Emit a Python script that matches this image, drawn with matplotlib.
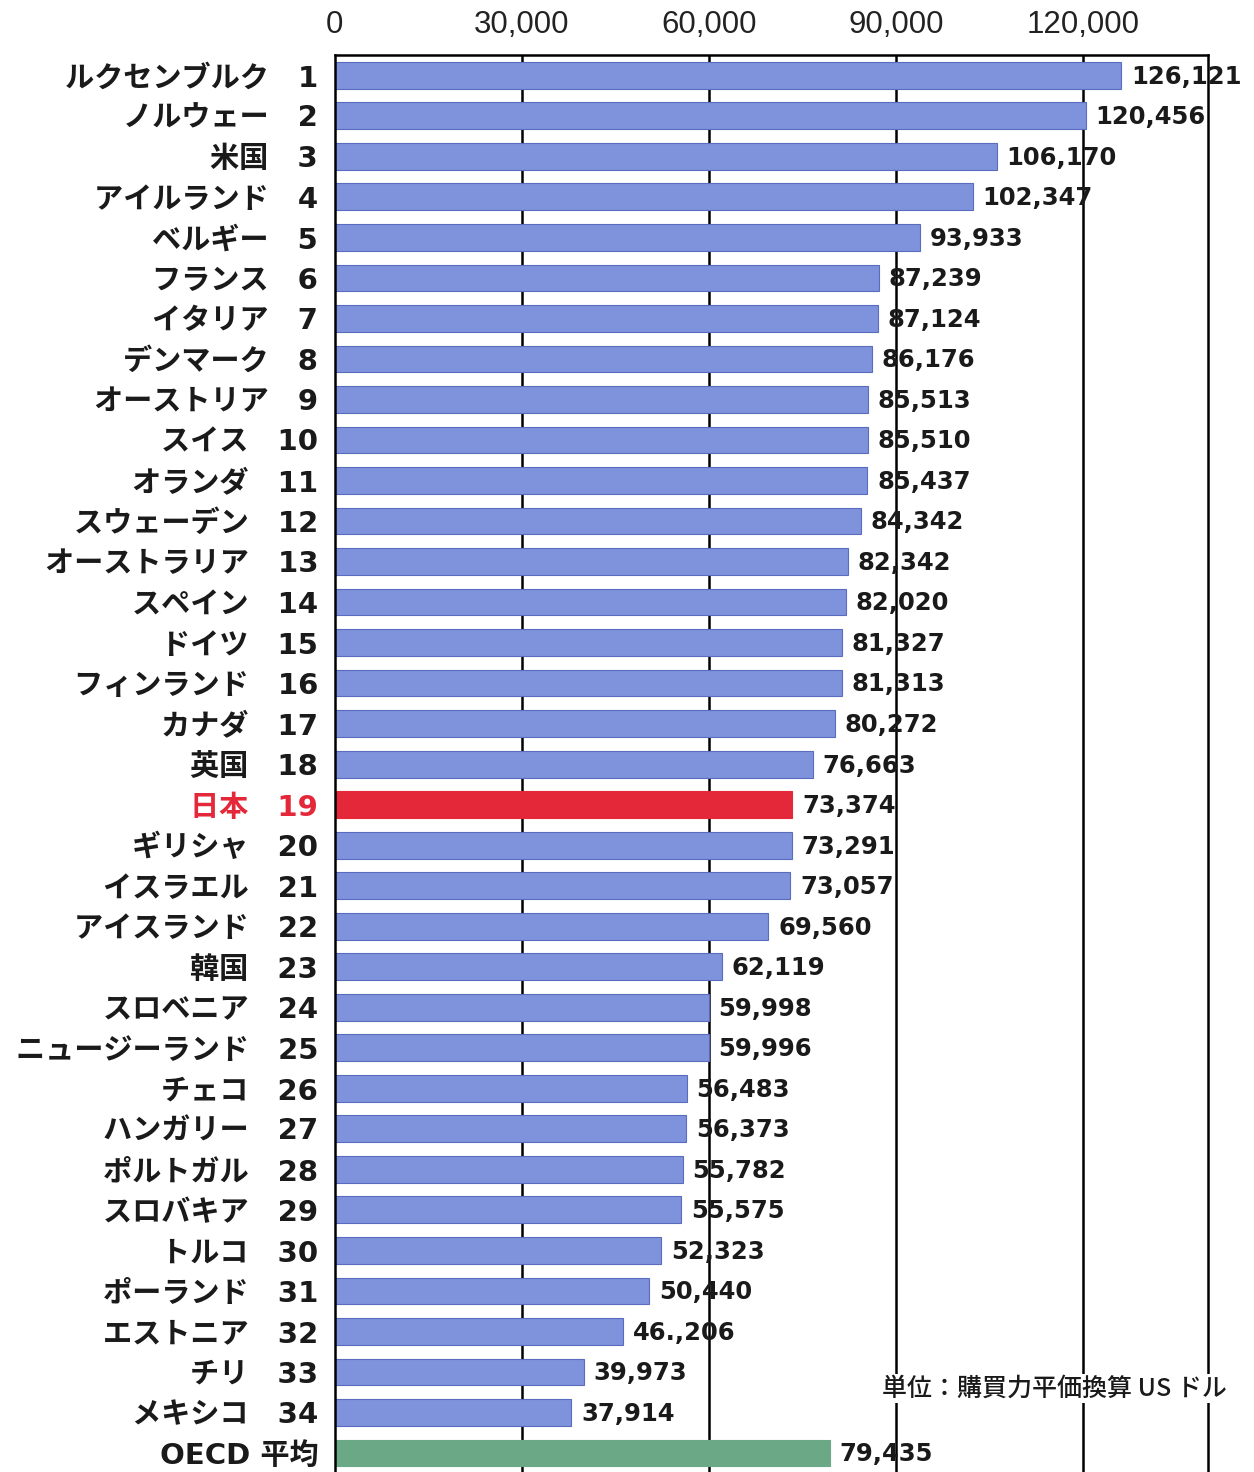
import numpy as np
import matplotlib
matplotlib.use("Agg")
import matplotlib.pyplot as plt
from matplotlib import font_manager

countries = [
    "ルクセンブルク", "ノルウェー", "米国", "アイルランド", "ベルギー", "フランス",
    "イタリア", "デンマーク", "オーストリア", "スイス", "オランダ", "スウェーデン",
    "オーストラリア", "スペイン", "ドイツ", "フィンランド", "カナダ", "英国", "日本",
    "ギリシャ", "イスラエル", "アイスランド", "韓国", "スロベニア", "ニュージーランド",
    "チェコ", "ハンガリー", "ポルトガル", "スロバキア", "トルコ", "ポーランド",
    "エストニア", "チリ", "メキシコ",
]
values = [
    126121, 120456, 106170, 102347, 93933, 87239, 87124, 86176, 85513, 85510,
    85437, 84342, 82342, 82020, 81327, 81313, 80272, 76663, 73374, 73291,
    73057, 69560, 62119, 59998, 59996, 56483, 56373, 55782, 55575, 52323,
    50440, 46206, 39973, 37914,
]
oecd_label = "OECD 平均"
oecd_value = 79435
xticks = [0, 30000, 60000, 90000, 120000]
unit_text = "単位：購買力平価換算 US ドル"

JP_FONT = "Noto Sans CJK JP"
names = {f.name for f in font_manager.fontManager.ttflist}
TICK_FONT = "Liberation Sans Narrow" if "Liberation Sans Narrow" in names else "Liberation Sans"
tick_size = 27 if TICK_FONT == "Liberation Sans Narrow" else 22.5

BLUE = "#7f93dc"
RED = "#e4283a"
GREEN = "#6aa886"

labels = [f"{n}\u3000{i + 1}" for i, n in enumerate(countries)] + [oecd_label]
all_values = values + [oecd_value]
value_text = [f"{v:,}" for v in all_values]
value_text[countries.index("エストニア")] = "46.,206"  # as printed in the source
colors = [BLUE] * len(values) + [GREEN]
colors[countries.index("日本")] = RED

fig = plt.figure(figsize=(12.54, 14.72), dpi=100)
ax = fig.add_axes([0.267, 0.0, 0.963 - 0.267, 0.9626])

y = np.arange(len(labels))
for xv in xticks[1:]:
    ax.axvline(xv, color="black", lw=1.8, zorder=1)
ax.barh(y, all_values, height=0.66, color=colors, edgecolor="#5a6cc0", lw=0.8, zorder=2)
# Japan / OECD bars keep their own edge colour
for bar, c in zip(ax.patches, colors):
    if c != BLUE:
        bar.set_edgecolor(c)

for yi, v, t in zip(y, all_values, value_text):
    ax.annotate(t, (v, yi), xytext=(7, -1), textcoords="offset points",
                ha="left", va="center", fontsize=17.5, fontweight="bold",
                family="DejaVu Sans", color="#1a1a1a", zorder=3)

ax.set_xlim(0, 140000)
ax.set_ylim(34.47, -0.5)

ax.xaxis.tick_top()
ax.set_xticks(xticks)
ax.set_xticklabels([f"{t:,}" for t in xticks], family=TICK_FONT, fontsize=tick_size, color="#222222")
ax.tick_params(axis="x", length=0, pad=11)

ax.set_yticks(y)
ax.set_yticklabels(labels, family=["DejaVu Sans", JP_FONT], fontsize=21, fontweight="bold", color="#1a1a1a")
ax.tick_params(axis="y", length=0, pad=12)
ax.get_yticklabels()[countries.index("日本")].set_color(RED)

for s in ["top", "left", "right"]:
    ax.spines[s].set_linewidth(1.8)
ax.spines["bottom"].set_visible(False)

ax.text(0.627, 0.059, unit_text, transform=ax.transAxes, ha="left", va="center",
        family=[JP_FONT, "DejaVu Sans"], fontsize=18, fontweight="medium", color="#1a1a1a", zorder=3,
        bbox=dict(facecolor="white", edgecolor="none", pad=1))

fig.savefig("out.png", dpi=100, facecolor="white")
